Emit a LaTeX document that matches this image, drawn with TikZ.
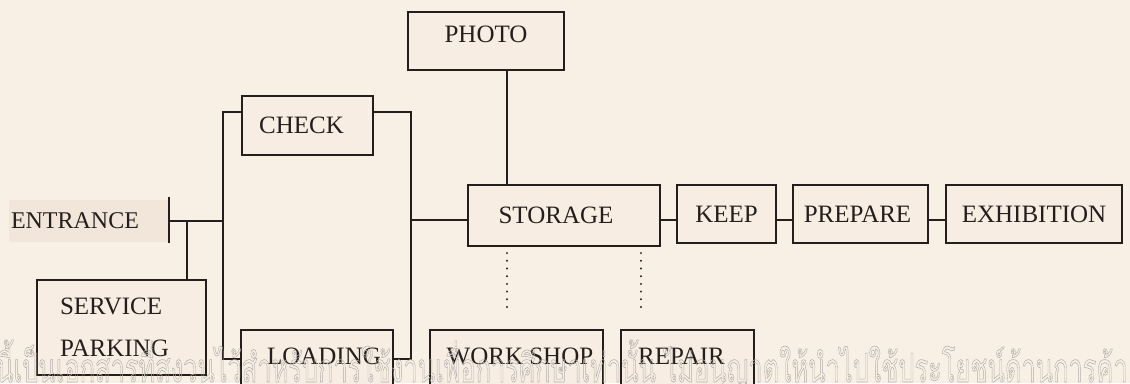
\documentclass[tikz,border=0pt]{standalone}
\usepackage{fontspec}
\setmainfont{Liberation Serif}
\newfontfamily\thaifont[Script=Thai]{Loma}
\usetikzlibrary{calc}
\definecolor{bg}{RGB}{248,240,228}
\definecolor{ink}{RGB}{36,31,28}
\definecolor{boxfill}{RGB}{247,237,226}
\definecolor{entfill}{RGB}{242,229,218}
\definecolor{wm}{RGB}{178,175,172}
\begin{document}
\begin{tikzpicture}[x=1pt,y=-1pt,
  box/.style={draw=ink, line width=2.1pt, fill=boxfill, inner sep=0pt, text=ink,
              font=\fontsize{25}{30}\selectfont},
  link/.style={draw=ink, line width=2.1pt},
  dots/.style={draw=ink, line width=2.2pt, line cap=round, dash pattern=on 0.1pt off 7.6pt},
  txtup/.style={text depth=#1}]
\useasboundingbox (0,0) rectangle (1130,383);
\fill[bg] (0,0) rectangle (1130,383);
\clip (0,0) rectangle (1130,383);

% nodes
\node[box, minimum width=156pt, minimum height=58pt, txtup=14pt] (photo) at (486,41) {PHOTO};
\node[box, minimum width=131pt, minimum height=59pt] (check) at (307.5,125.5) {CHECK\hspace*{12pt}};
\node[box, draw=none, fill=entfill, minimum width=159pt, minimum height=42pt,
      font=\fontsize{24}{28}\selectfont] (entrance) at (88,221) {ENTRANCE\hspace*{26pt}};
\node[box, minimum width=169pt, minimum height=95pt, text width=123pt, align=left,
      font=\fontsize{25}{42}\selectfont] (service) at (121.5,327.5) {SERVICE\\PARKING};
\node[box, minimum width=152pt, minimum height=60pt, txtup=8pt] (loading) at (317,360) {\hspace*{14pt}LOADING};
\node[box, minimum width=192pt, minimum height=61pt] (storage) at (564,215.5) {STORAGE\hspace*{16pt}};
\node[box, minimum width=173pt, minimum height=60pt, txtup=8pt] (workshop) at (516.5,360) {\hspace*{7pt}WORK SHOP};
\node[box, minimum width=133pt, minimum height=60pt, txtup=8pt] (repair) at (687.5,360) {REPAIR\hspace*{12pt}};
\node[box, minimum width=99pt, minimum height=58pt] (keep) at (726.5,214) {KEEP};
\node[box, minimum width=135pt, minimum height=58pt] (prepare) at (860.5,214) {PREPARE\hspace*{6pt}};
\node[box, minimum width=176pt, minimum height=58pt] (exhibition) at (1034,214) {EXHIBITION};

% helper coordinates
\coordinate (lt) at (223,112);
\coordinate (lb) at (223,359);
\coordinate (rt) at (411,112);
\coordinate (rb) at (411,359);
\coordinate (ej) at (187,221);
\coordinate (row) at (0,220);
\coordinate (px) at (507,0);
\coordinate (qx) at (641,0);

% connectors
\draw[link] ($(entrance.north east)+(0,-2)$) -- (entrance.south east);
\draw[link] (entrance.east) -- (entrance.east -| lt);
\draw[link] (ej) -- (ej |- service.north);
\draw[link] (lt -| check.west) -- (lt) -- (lb) -- (lb -| loading.west);
\draw[link] (rt -| check.east) -- (rt) -- (rb) -- (rb -| loading.east);
\draw[link] (storage.west |- row) -- (row -| rt);
\draw[link] (photo.south -| px) -- (storage.north -| px);
\draw[link] (storage.east |- row) -- (keep.west |- row);
\draw[link] (keep.east |- row) -- (prepare.west |- row);
\draw[link] (prepare.east |- row) -- (exhibition.west |- row);
\draw[dots] ($(storage.south -| px)+(0,6)$) -- ($(workshop.north -| px)+(0,-15)$);
\draw[dots] ($(storage.south -| qx)+(0,6)$) -- ($(repair.north -| qx)+(0,-15)$);

% watermark
\node[anchor=base west, inner sep=0pt, text=wm, font=\thaifont\fontsize{40}{40}\selectfont] (watermark) at (-4,382)
  {\scalebox{0.635}[1]{\special{pdf:literal direct 1 Tr 0.6 w}นี้เป็นเอกสารที่สงวนไว้สำหรับการใช้งานเพื่อการศึกษาเท่านั้น ไม่อนุญาตให้นำไปใช้ประโยชน์ด้านการค้า\special{pdf:literal direct 0 Tr}}};
\end{tikzpicture}
\end{document}
